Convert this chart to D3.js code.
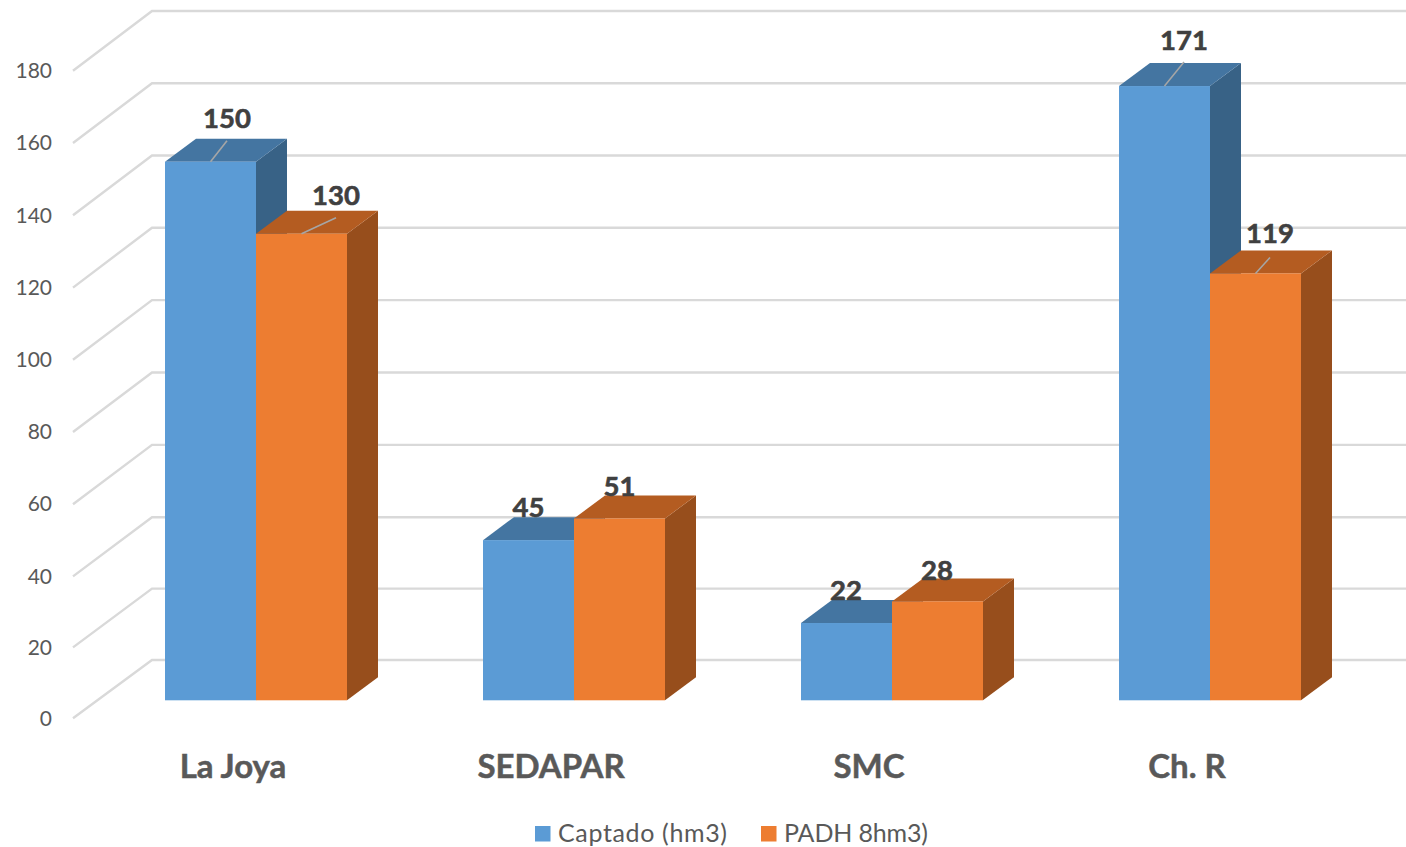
<!DOCTYPE html>
<html>
<head>
<meta charset="utf-8">
<script src="https://cdn.jsdelivr.net/npm/d3@7"></script>
<style>
html,body{margin:0;padding:0;background:#fff;overflow:hidden}
svg{display:block}
text{font-family:Lato,"Open Sans",sans-serif}
</style>
</head>
<body>
<svg id="chart" width="1406" height="847"></svg>
<script>
const categories = ["La Joya", "SEDAPAR", "SMC", "Ch. R"];
const captado = [150, 45, 22, 171];
const padh = [130, 51, 28, 119];
const seriesNames = ["Captado (hm3)", "PADH 8hm3)"];
const yTicks = [0, 20, 40, 60, 80, 100, 120, 140, 160, 180];

const svg = d3.select("#chart");
const depthX = 31, depthY = -23;
const baseY = 700.3;

const x = d3.scaleBand().domain(categories).range([97, 1369]);
const inner = d3.scaleBand().domain([0, 1]).range([x.bandwidth() / 2 - 91, x.bandwidth() / 2 + 91]);
const yFront = d3.scaleLinear().domain([0, 180]).range([702.3, 53.6]);
// The source's 3D projection spaces its gridlines very slightly unevenly
const yAxisEdge = d3.scaleLinear().domain([0, 40, 120, 180]).range([718.3, 576.4, 287.6, 70.7]);
const yBack = d3.scaleLinear().domain([0, 40, 120, 180]).range([660, 517.3, 227.7, 11]);

const colors = [
  {front: "#5B9BD5", top: "#4475A1", side: "#386286"},
  {front: "#ED7D31", top: "#B45C21", side: "#974E1C"}
];

// Gridlines: floor/wall edge plus back wall
const grid = svg.append("g");
yTicks.forEach(t => {
  grid.append("path")
    .attr("d", d3.line()([[73, yAxisEdge(t)], [152, yBack(t)], [1406, yBack(t)]]))
    .attr("fill", "none").attr("stroke", "#D9D9D9").attr("stroke-width", 2.4);
});

// Value axis labels
const yAxisG = svg.append("g").attr("transform", "translate(52,0)")
  .call(d3.axisLeft(yAxisEdge).tickValues(yTicks).tickSize(0).tickPadding(0));
yAxisG.select(".domain").remove();
yAxisG.selectAll("text").attr("fill", "#595959").attr("font-size", 21).attr("dy", "0.32em")
  .attr("y", 0)
  .style("font-family", "Lato,'Open Sans',sans-serif");

// Bars
const rows = [captado, padh];
const bars = [];
categories.forEach((c, i) => rows.forEach((vals, s) => bars.push({c, s, v: vals[i]})));
bars.forEach(b => {
  const x0 = x(b.c) + inner(b.s), x1 = x0 + inner.bandwidth();
  const y0 = baseY, y1 = yFront(b.v);
  const g = svg.append("g");
  const col = colors[b.s];
  g.append("path").attr("fill", col.side)
    .attr("d", d3.line()([[x1, y1], [x1 + depthX, y1 + depthY], [x1 + depthX, y0 + depthY], [x1, y0]]) + "Z");
  g.append("path").attr("fill", col.top)
    .attr("d", d3.line()([[x0, y1], [x0 + depthX, y1 + depthY], [x1 + depthX, y1 + depthY], [x1, y1]]) + "Z");
  g.append("rect").attr("x", x0).attr("y", y1).attr("width", x1 - x0).attr("height", y0 - y1).attr("fill", col.front);
});

// Value labels, placed by hand as in the source chart (offset from bar top centre)
const labelOffsets = [
  [[16.5, -44], [34.5, -38.5]],
  [[0, -33], [0, -32]],
  [[-0.5, -32.5], [-0.5, -31]],
  [[19.5, -46], [14.5, -40]]
];
const leaderEnds = [
  [[16.5, -21], [34.5, -16]],
  [null, null],
  [null, null],
  [[19.5, -24], [14.5, -16]]
];
categories.forEach((c, i) => rows.forEach((vals, s) => {
  const cx = x(c) + inner(s) + inner.bandwidth() / 2;
  const top = yFront(vals[i]);
  const [dx, dy] = labelOffsets[i][s];
  const end = leaderEnds[i][s];
  if (end) {
    svg.append("line").attr("x1", cx).attr("y1", top)
      .attr("x2", cx + end[0]).attr("y2", top + end[1])
      .attr("stroke", "#A6A6A6").attr("stroke-width", 1.6);
  }
  svg.append("text").attr("x", cx + dx).attr("y", top + dy).attr("dy", "0.36em")
    .attr("text-anchor", "middle").attr("font-size", 27.5).attr("font-weight", 700)
    .attr("stroke", "#404040").attr("stroke-width", 0.6)
    .attr("fill", "#404040").text(vals[i]);
}));

// Category labels
const xAxisG = svg.append("g").attr("transform", "translate(-23,766)")
  .call(d3.axisBottom(x).tickSize(0).tickPadding(0));
xAxisG.select(".domain").remove();
xAxisG.selectAll("text").attr("y", 0).attr("dy", "0.36em").attr("fill", "#595959")
  .attr("stroke", "#595959").attr("stroke-width", 0.5)
  .attr("font-size", 33).attr("font-weight", 700)
  .style("font-family", "Lato,'Open Sans',sans-serif");

// Legend
const legendX = [535, 761];
const legendWidth = [169, 144];
seriesNames.forEach((name, i) => {
  svg.append("rect").attr("x", legendX[i]).attr("y", 826).attr("width", 15.5).attr("height", 15.5).attr("fill", colors[i].front);
  svg.append("text").attr("x", legendX[i] + 23).attr("y", 833).attr("dy", "0.36em")
    .attr("font-size", 25).attr("fill", "#595959")
    .attr("textLength", legendWidth[i]).attr("lengthAdjust", "spacing").text(name);
});
</script>
</body>
</html>
